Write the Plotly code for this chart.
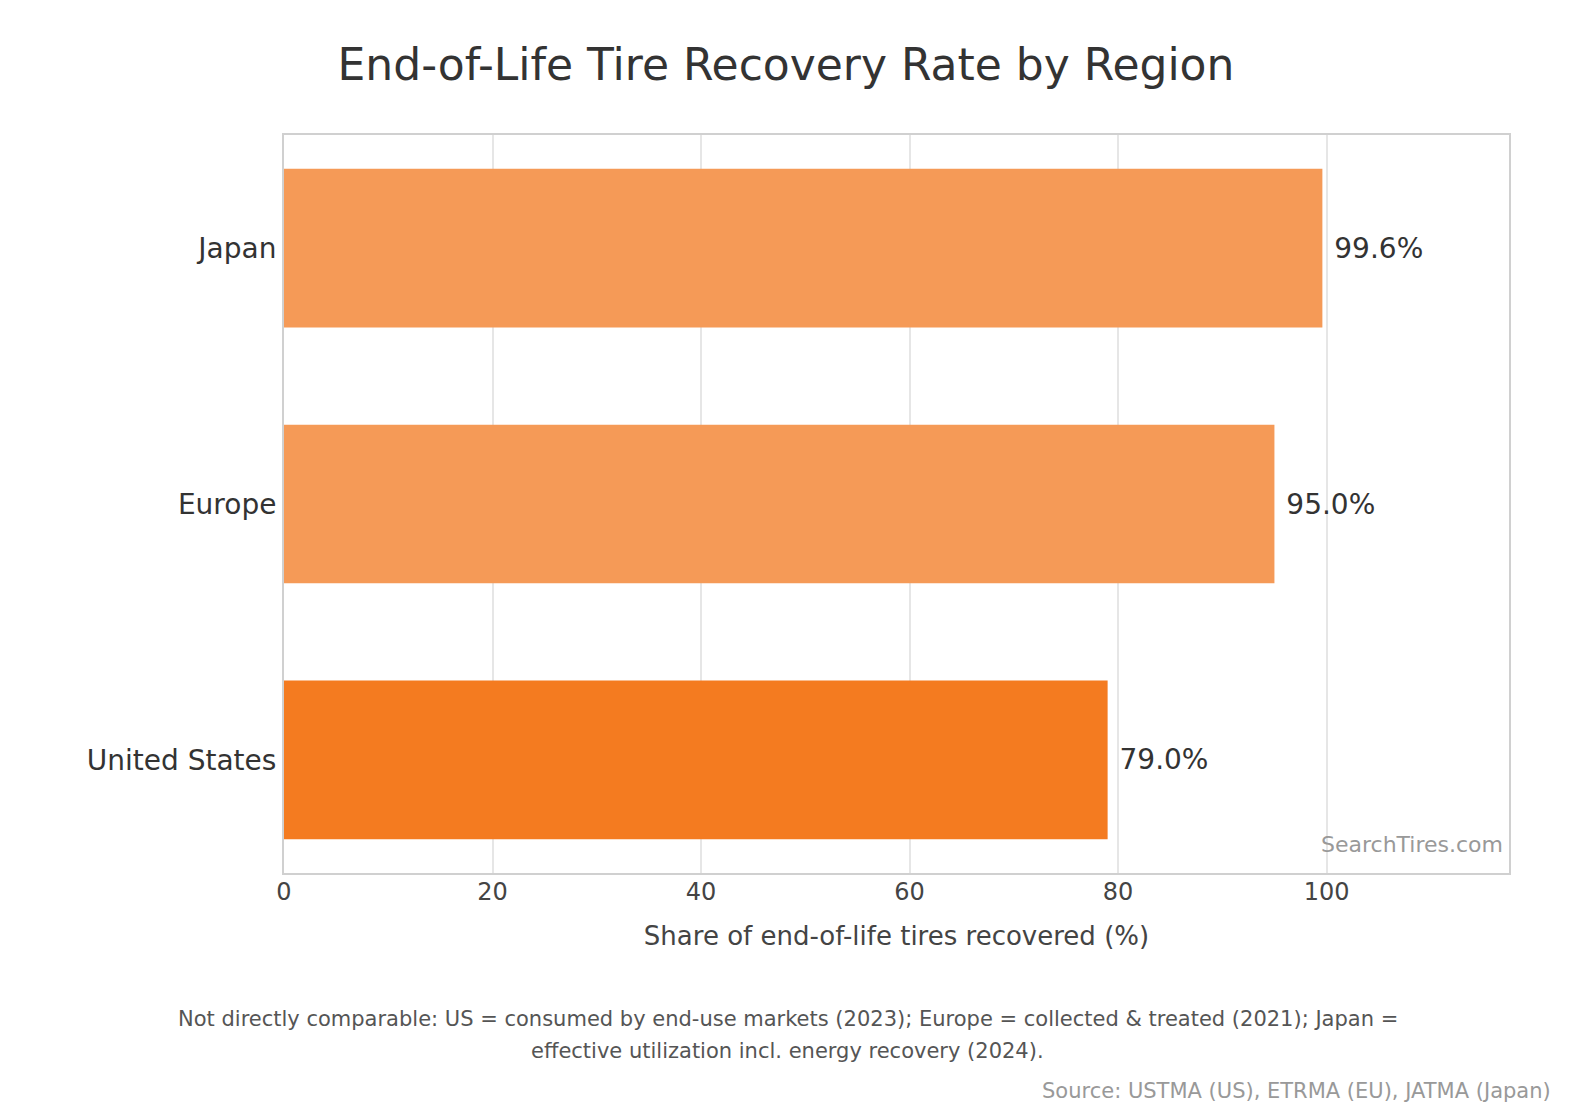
import plotly.graph_objects as go

regions = ["United States", "Europe", "Japan"]
recovery = [79.0, 95.0, 99.6]
bar_colors = ["#F47B20", "#F59A57", "#F59A57"]
labels = ["\u00a0{:.1f}%".format(v) for v in recovery]

fig = go.Figure()
fig.add_trace(go.Bar(
    x=recovery, y=regions, orientation="h",
    marker=dict(color=bar_colors, line=dict(width=0)),
    width=0.62,
    text=labels, textposition="outside",
    textfont=dict(size=28, color="#333333"),
    cliponaxis=False,
    hoverinfo="skip",
))

fig.update_layout(
    width=1573, height=1120,
    margin=dict(l=276, r=72, t=127, b=255),
    paper_bgcolor="white", plot_bgcolor="white",
    font=dict(family="DejaVu Sans", color="#333333"),
    title=dict(text="End-of-Life Tire Recovery Rate by Region",
               x=778 / 1573, xanchor="center", y=1 - 57 / 1120, yref="container",
               yanchor="middle", font=dict(size=44, color="#333333")),
    showlegend=False,
)
fig.update_xaxes(
    range=[0, 117.5], tickvals=[0, 20, 40, 60, 80, 100],
    tickfont=dict(size=24, color="#444444"),
    ticklabelstandoff=-4,
    title=dict(text="Share of end-of-life tires recovered (%)",
               font=dict(size=26, color="#444444"), standoff=22),
    showgrid=True, gridcolor="#e6e6e6", gridwidth=1.5,
    showline=True, linecolor="#d0d0d0", linewidth=2, mirror=True,
    zeroline=False, ticks="",
)
fig.update_yaxes(
    range=[-0.442, 2.442],
    tickfont=dict(size=28, color="#333333"),
    showgrid=False,
    showline=True, linecolor="#d0d0d0", linewidth=2, mirror=True,
    ticks="", ticklen=8, tickcolor="white",
)

fig.add_annotation(text="SearchTires.com", xref="paper", yref="paper",
                   x=0.997, y=0.019, xanchor="right", yanchor="bottom",
                   showarrow=False, font=dict(size=22, color="#999999"))
fig.add_annotation(
    text="Not directly comparable: US = consumed by end-use markets (2023); Europe = collected &amp; treated (2021); Japan =",
    xref="paper", yref="paper", x=(785 - 282) / 1223, y=(870 - 1016) / 737,
    xanchor="center", yanchor="middle", showarrow=False,
    font=dict(size=21, color="#555555"))
fig.add_annotation(
    text="effective utilization incl. energy recovery (2024).",
    xref="paper", yref="paper", x=(785 - 282) / 1223, y=(870 - 1048) / 737,
    xanchor="center", yanchor="middle", showarrow=False,
    font=dict(size=21, color="#555555"))
fig.add_annotation(text="Source: USTMA (US), ETRMA (EU), JATMA (Japan)",
                   xref="paper", yref="paper", x=(1549 - 282) / 1223,
                   y=(870 - 1088) / 737, xanchor="right", yanchor="middle",
                   showarrow=False, font=dict(size=21, color="#999999"))

fig.write_html("out.html")
